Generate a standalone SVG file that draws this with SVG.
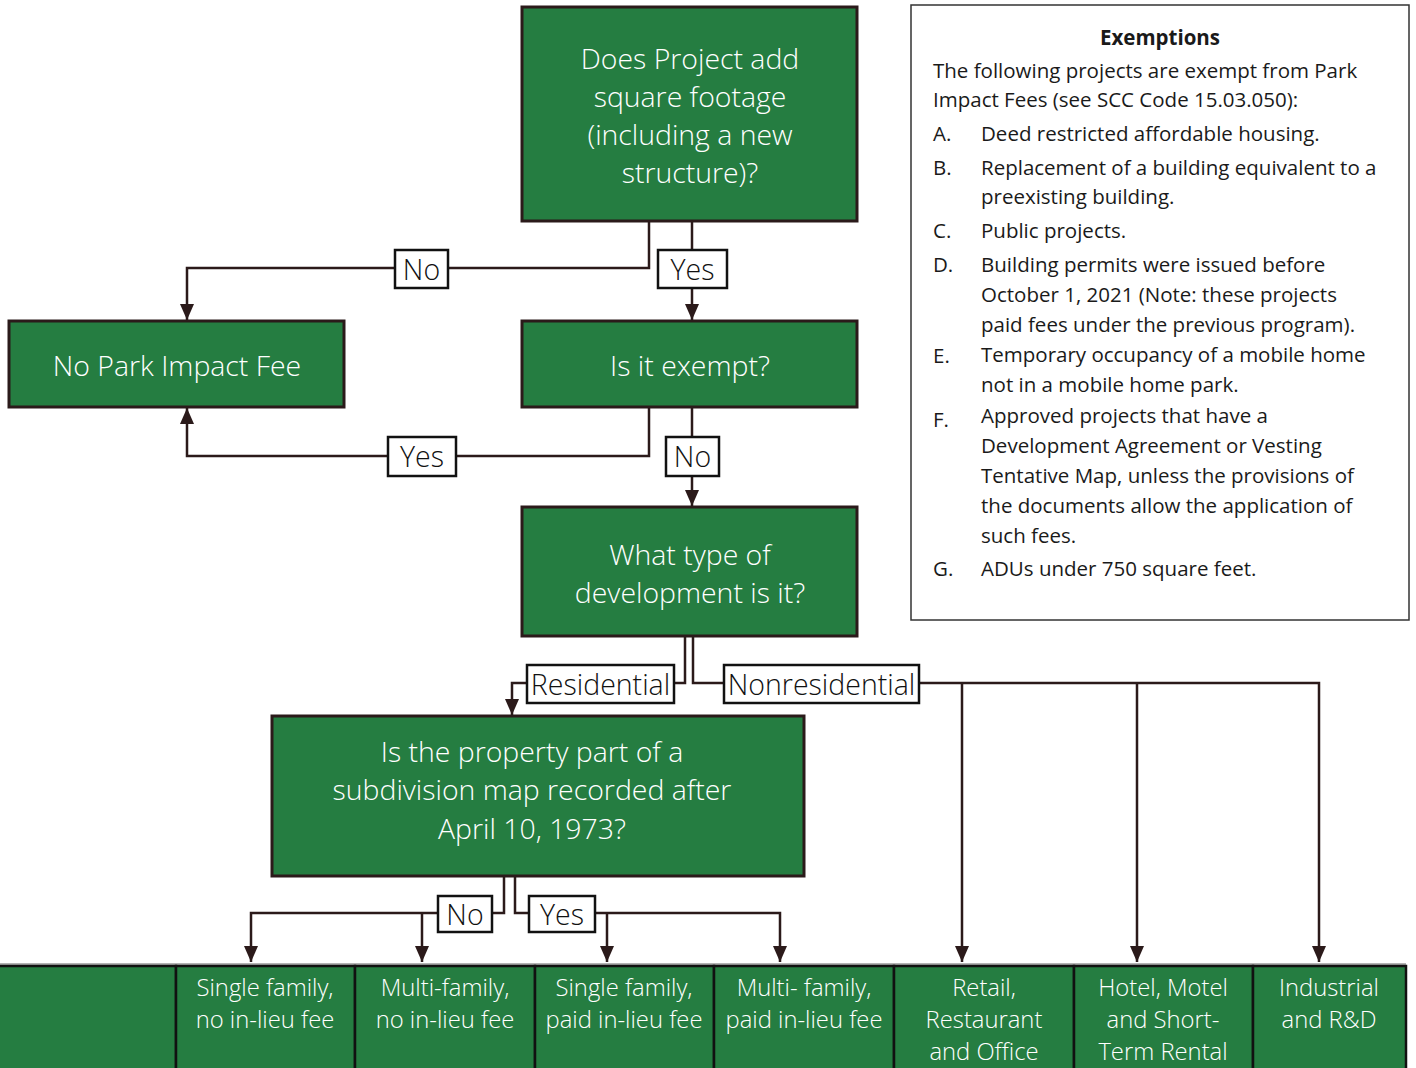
<svg xmlns="http://www.w3.org/2000/svg" width="1416" height="1068" viewBox="0 0 1416 1068">
<style>
.node{fill:#257d41;stroke:#2b1a1a;stroke-width:3}
.nt{fill:#ffffff;font-family:"Open Sans","Noto Sans",sans-serif;font-weight:300;font-size:28.4px;text-anchor:middle}
.bt{fill:#ffffff;font-family:"Open Sans","Noto Sans",sans-serif;font-weight:300;font-size:23.8px;text-anchor:middle}
.cell{fill:#257d41;stroke:#111111;stroke-width:2.5}
.conn{fill:none;stroke:#2b1a1a;stroke-width:2.5}
.lab{fill:#ffffff;stroke:#111111;stroke-width:2.5}
.lt{fill:#111111;font-family:"Open Sans","Noto Sans",sans-serif;font-weight:300;font-size:28.5px;text-anchor:middle}
.ex{fill:#1a1a1a;font-family:"Open Sans","Noto Sans",sans-serif;font-size:20.5px}
</style>
<defs>
<marker id="ah" markerWidth="16" markerHeight="14" refX="16" refY="7" orient="auto" markerUnits="userSpaceOnUse" viewBox="0 0 16 14">
<path d="M0,0 L16,7 L0,14 Z" fill="#2b1a1a"/>
</marker>
</defs>
<rect width="1416" height="1068" fill="#ffffff"/>

<g id="connectors">
<path class="conn" d="M649,221 V268 H187 V320" marker-end="url(#ah)"/>
<path class="conn" d="M692,221 V320" marker-end="url(#ah)"/>
<path class="conn" d="M649,407 V456 H187 V408" marker-end="url(#ah)"/>
<path class="conn" d="M692,407 V506" marker-end="url(#ah)"/>
<path class="conn" d="M685,636 V683 H512 V715" marker-end="url(#ah)"/>
<path class="conn" d="M693,636 V683 H1319 V962" marker-end="url(#ah)"/>
<path class="conn" d="M962,683 V962" marker-end="url(#ah)"/>
<path class="conn" d="M1137,683 V962" marker-end="url(#ah)"/>
<path class="conn" d="M504,876 V913 H251 V962" marker-end="url(#ah)"/>
<path class="conn" d="M422,913 V962" marker-end="url(#ah)"/>
<path class="conn" d="M515,876 V913 H780 V962" marker-end="url(#ah)"/>
<path class="conn" d="M607,913 V962" marker-end="url(#ah)"/>
<g id="labels">
<rect class="lab" x="395" y="250" width="53" height="38"/><text class="lt" x="421.5" y="280">No</text>
<rect class="lab" x="658" y="250" width="69" height="38"/><text class="lt" x="692.5" y="280">Yes</text>
<rect class="lab" x="388" y="437" width="68" height="39"/><text class="lt" x="422" y="467">Yes</text>
<rect class="lab" x="666" y="437" width="53" height="39"/><text class="lt" x="692.5" y="467">No</text>
<rect class="lab" x="527" y="665" width="147" height="38"/><text class="lt" x="600.5" y="695">Residential</text>
<rect class="lab" x="724" y="665" width="195" height="38"/><text class="lt" x="821.5" y="695">Nonresidential</text>
<rect class="lab" x="438" y="896" width="54" height="36"/><text class="lt" x="465" y="925">No</text>
<rect class="lab" x="529" y="896" width="66" height="36"/><text class="lt" x="562" y="925">Yes</text>
</g>
</g>

<g id="n1">
<rect class="node" x="522" y="7" width="335" height="214"/>
<text class="nt" x="690" y="69">Does Project add</text>
<text class="nt" x="690" y="107">square footage</text>
<text class="nt" x="690" y="145">(including a new</text>
<text class="nt" x="690" y="183">structure)?</text>
</g>
<g id="n2">
<rect class="node" x="9" y="321" width="335" height="86"/>
<text class="nt" x="177" y="376">No Park Impact Fee</text>
</g>
<g id="n3">
<rect class="node" x="522" y="321" width="335" height="86"/>
<text class="nt" x="690" y="376">Is it exempt?</text>
</g>
<g id="n4">
<rect class="node" x="522" y="507" width="335" height="129"/>
<text class="nt" x="690" y="565">What type of</text>
<text class="nt" x="690" y="603">development is it?</text>
</g>
<g id="n5">
<rect class="node" x="272" y="716" width="532" height="160"/>
<text class="nt" x="532" y="762">Is the property part of a</text>
<text class="nt" x="532" y="800">subdivision map recorded after</text>
<text class="nt" x="532" y="839">April 10, 1973?</text>
</g>

<g id="bottom-row">
<line x1="0" y1="964" x2="1406" y2="964" stroke="#666666" stroke-width="1"/>
<g id="c0"><rect class="cell" x="-2" y="966" width="178" height="110"/></g>
<g id="c1"><rect class="cell" x="176" y="966" width="179" height="110"/>
<text class="bt" x="265" y="996">Single family,</text><text class="bt" x="265" y="1028">no in-lieu fee</text></g>
<g id="c2"><rect class="cell" x="355" y="966" width="180" height="110"/>
<text class="bt" x="445" y="996">Multi-family,</text><text class="bt" x="445" y="1028">no in-lieu fee</text></g>
<g id="c3"><rect class="cell" x="535" y="966" width="179" height="110"/>
<text class="bt" x="624" y="996">Single family,</text><text class="bt" x="624" y="1028">paid in-lieu fee</text></g>
<g id="c4"><rect class="cell" x="714" y="966" width="180" height="110"/>
<text class="bt" x="804" y="996">Multi- family,</text><text class="bt" x="804" y="1028">paid in-lieu fee</text></g>
<g id="c5"><rect class="cell" x="894" y="966" width="180" height="110"/>
<text class="bt" x="984" y="996">Retail,</text><text class="bt" x="984" y="1028">Restaurant</text><text class="bt" x="984" y="1060">and Office</text></g>
<g id="c6"><rect class="cell" x="1074" y="966" width="179" height="110"/>
<text class="bt" x="1163" y="996">Hotel, Motel</text><text class="bt" x="1163" y="1028">and Short-</text><text class="bt" x="1163" y="1060">Term Rental</text></g>
<g id="c7"><rect class="cell" x="1253" y="966" width="153" height="110"/>
<text class="bt" x="1329" y="996">Industrial</text><text class="bt" x="1329" y="1028">and R&amp;D</text></g>
</g>

<g id="exemptions">
<rect x="911" y="5" width="498" height="615" fill="#ffffff" stroke="#333333" stroke-width="1.5"/>
<text class="ex" x="1160" y="45" text-anchor="middle" font-weight="bold" font-size="19.5">Exemptions</text>
<text class="ex" x="933" y="78">The following projects are exempt from Park</text>
<text class="ex" x="933" y="107">Impact Fees (see SCC Code 15.03.050):</text>
<text class="ex" x="933" y="141">A.</text><text class="ex" x="981" y="141">Deed restricted affordable housing.</text>
<text class="ex" x="933" y="175">B.</text><text class="ex" x="981" y="175">Replacement of a building equivalent to a</text>
<text class="ex" x="981" y="204">preexisting building.</text>
<text class="ex" x="933" y="238">C.</text><text class="ex" x="981" y="238">Public projects.</text>
<text class="ex" x="933" y="272">D.</text><text class="ex" x="981" y="272">Building permits were issued before</text>
<text class="ex" x="981" y="302">October 1, 2021 (Note: these projects</text>
<text class="ex" x="981" y="332">paid fees under the previous program).</text>
<text class="ex" x="933" y="363">E.</text><text class="ex" x="981" y="362">Temporary occupancy of a mobile home</text>
<text class="ex" x="981" y="392">not in a mobile home park.</text>
<text class="ex" x="933" y="427">F.</text><text class="ex" x="981" y="423">Approved projects that have a</text>
<text class="ex" x="981" y="453">Development Agreement or Vesting</text>
<text class="ex" x="981" y="483">Tentative Map, unless the provisions of</text>
<text class="ex" x="981" y="513">the documents allow the application of</text>
<text class="ex" x="981" y="543">such fees.</text>
<text class="ex" x="933" y="576">G.</text><text class="ex" x="981" y="576">ADUs under 750 square feet.</text>
</g>
</svg>
